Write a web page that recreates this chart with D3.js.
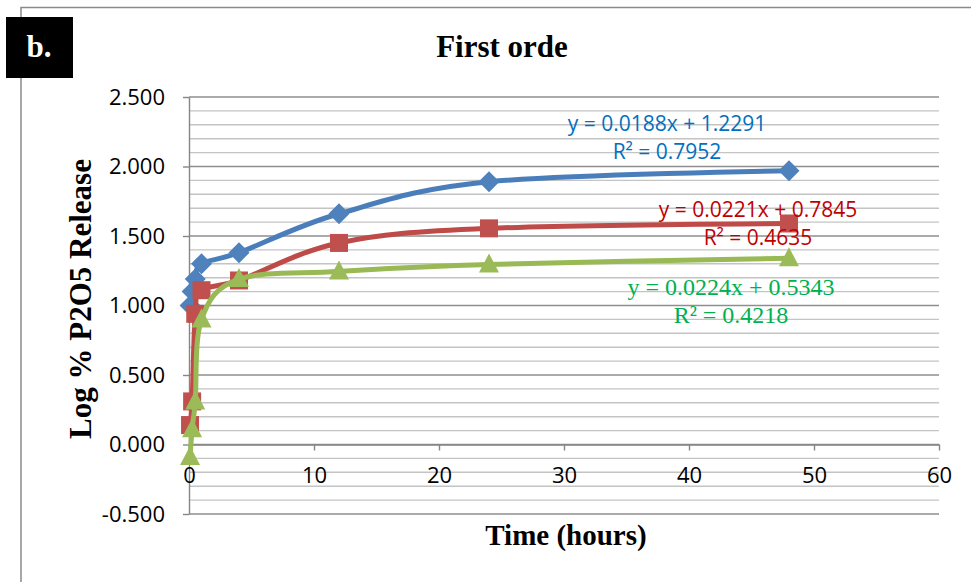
<!DOCTYPE html>
<html>
<head>
<meta charset="utf-8">
<script src="https://cdn.jsdelivr.net/npm/d3@7"></script>
<style>
  body { margin: 0; background: #fff; }
  svg { display: block; }
  .tick text { font-family: "Open Sans", sans-serif; font-size: 22px; fill: #000; }
</style>
</head>
<body>
<div id="chart"></div>
<script>
// values
const hours = [0.083, 0.25, 0.5, 1, 4, 12, 24, 48]
const blueVals = [1.00, 1.10, 1.19, 1.30, 1.38, 1.66, 1.89, 1.97]
const redVals = [0.14, 0.31, 0.94, 1.11, 1.18, 1.45, 1.555, 1.59]
const greenVals = [-0.09, 0.11, 0.31, 0.90, 1.19, 1.245, 1.295, 1.34]
const yTicks = [-0.5, 0, 0.5, 1, 1.5, 2, 2.5]
const xTicks = [0, 10, 20, 30, 40, 50, 60]
const equations = [
  { lines: ["y = 0.0188x + 1.2291", "R² = 0.7952"], color: "#0070C0", serif: false, x: 667, y: 131 },
  { lines: ["y = 0.0221x + 0.7845", "R² = 0.4635"], color: "#C00000", serif: false, x: 758, y: 217 },
  { lines: ["y = 0.0224x + 0.5343", "R² = 0.4218"], color: "#00B050", serif: true, x: 731, y: 295 }
]

const svgWidth = 971
const svgHeight = 582

let svg = d3.select("#chart")
  .append("svg")
  .attr("width", svgWidth)
  .attr("height", svgHeight)

// outer frame (top + left visible)
svg.append("path")
  .attr("d", "M21,582 V7.5 H971")
  .attr("fill", "none")
  .attr("stroke", "#8a8a8a")
  .attr("stroke-width", 1.5)

let x = d3.scaleLinear().domain([0, 60]).range([189, 939])
let y = d3.scaleLinear().domain([-0.5, 2.5]).range([514, 97])

// gridlines: minor every 0.1, major every 0.5
let minor = d3.range(-5, 26).map(i => i / 10)
svg.append("g")
  .selectAll("line")
  .data(minor)
  .enter()
  .append("line")
  .attr("x1", x(0))
  .attr("x2", x(60))
  .attr("y1", d => y(d))
  .attr("y2", d => y(d))
  .attr("stroke", (d, i) => i % 5 === 0 ? "#8e8e8e" : "#c4c4c4")
  .attr("stroke-width", 1.4)

// axes
let yAxis = svg.append("g")
  .attr("transform", `translate(${x(0)},0)`)
  .call(d3.axisLeft(y).tickValues(yTicks).tickFormat(d => d.toFixed(3))
    .tickSize(6).tickSizeOuter(0).tickPadding(18))
let xAxis = svg.append("g")
  .attr("transform", `translate(0,${y(0)})`)
  .call(d3.axisBottom(x).tickValues(xTicks)
    .tickSize(6).tickSizeOuter(0).tickPadding(17))
svg.selectAll(".domain, .tick line")
  .attr("stroke", "#868686")
  .attr("stroke-width", 1.4)

// series
let series = [
  { vals: blueVals, color: "#4A7EBB", marker: "#4F81BD", shape: "diamond" },
  { vals: redVals, color: "#BE4B48", marker: "#C0504D", shape: "square" },
  { vals: greenVals, color: "#98B954", marker: "#9BBB59", shape: "triangle" }
]

let line = d3.line()
  .x(d => x(d[0]))
  .y(d => y(d[1]))
  .curve(d3.curveCardinal.tension(0))

function markerPath(shape) {
  if (shape === "diamond") return "M0,-10.5 L10.5,0 L0,10.5 L-10.5,0 Z"
  if (shape === "square") return "M-9,-9 H9 V9 H-9 Z"
  return "M0,-11 L10,8 L-10,8 Z"
}

series.forEach(s => {
  let pts = hours.map((h, i) => [h, s.vals[i]])
  let g = svg.append("g")
  g.append("path")
    .attr("d", line(pts))
    .attr("fill", "none")
    .attr("stroke", s.color)
    .attr("stroke-width", 5)
    .attr("stroke-linejoin", "round")
  g.selectAll("path.m")
    .data(pts)
    .enter()
    .append("path")
    .attr("class", "m")
    .attr("d", markerPath(s.shape))
    .attr("transform", d => `translate(${x(d[0])},${y(d[1])})`)
    .attr("fill", s.marker)
})

// trendline equations
equations.forEach(e => {
  let t = svg.append("text")
    .attr("text-anchor", "middle")
    .attr("fill", e.color)
    .style("font-family", e.serif ? "'Liberation Serif', serif" : "'Open Sans', sans-serif")
    .style("font-size", e.serif ? "24px" : "21px")
  e.lines.forEach((l, i) => {
    t.append("tspan").attr("x", e.x).attr("y", e.y + i * 28).text(l)
  })
})

// titles
svg.append("text")
  .attr("x", 502)
  .attr("y", 57)
  .attr("text-anchor", "middle")
  .style("font-family", "'Liberation Serif', serif")
  .style("font-weight", "bold")
  .style("font-size", "31px")
  .text("First orde")

svg.append("text")
  .attr("x", 566)
  .attr("y", 545)
  .attr("text-anchor", "middle")
  .style("font-family", "'Liberation Serif', serif")
  .style("font-weight", "bold")
  .style("font-size", "29px")
  .text("Time (hours)")

svg.append("text")
  .attr("transform", "translate(91,299) rotate(-90)")
  .attr("text-anchor", "middle")
  .style("font-family", "'Liberation Serif', serif")
  .style("font-weight", "bold")
  .style("font-size", "31px")
  .text("Log % P2O5 Release")

// panel letter
svg.append("rect")
  .attr("x", 6)
  .attr("y", 17)
  .attr("width", 67)
  .attr("height", 61)
  .attr("fill", "#000")
svg.append("text")
  .attr("x", 39)
  .attr("y", 57)
  .attr("text-anchor", "middle")
  .attr("fill", "#fff")
  .style("font-family", "'Liberation Serif', serif")
  .style("font-weight", "bold")
  .style("font-size", "31px")
  .text("b.")
</script>
</body>
</html>
